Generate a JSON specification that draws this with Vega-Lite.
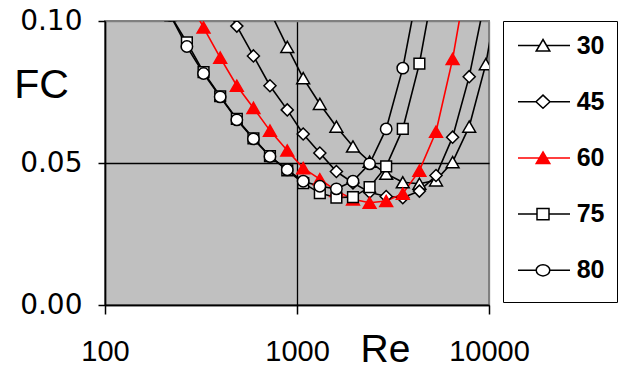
{
  "$schema": "https://vega.github.io/schema/vega-lite/v6.json",
  "width": 384,
  "height": 284,
  "autosize": {"type": "none"},
  "padding": {"left": 105, "top": 21, "right": 131, "bottom": 65},
  "background": "white",
  "config": {
    "view": {"fill": "#c0c0c0", "stroke": "#808080", "strokeWidth": 2},
    "font": "Liberation Sans"
  },
  "data": {
    "values": [
      {"series": "30", "Re": 723, "FC": 0.1034},
      {"series": "30", "Re": 890, "FC": 0.0909},
      {"series": "30", "Re": 1077, "FC": 0.0799},
      {"series": "30", "Re": 1315, "FC": 0.0708},
      {"series": "30", "Re": 1604, "FC": 0.0628},
      {"series": "30", "Re": 1957, "FC": 0.0558},
      {"series": "30", "Re": 2388, "FC": 0.0505},
      {"series": "30", "Re": 2914, "FC": 0.0462},
      {"series": "30", "Re": 3556, "FC": 0.0432},
      {"series": "30", "Re": 4340, "FC": 0.0427},
      {"series": "30", "Re": 5297, "FC": 0.0439},
      {"series": "30", "Re": 6463, "FC": 0.0503},
      {"series": "30", "Re": 7886, "FC": 0.0628},
      {"series": "30", "Re": 9623, "FC": 0.0848},
      {"series": "30", "Re": 11743, "FC": 0.118},
      {"series": "45", "Re": 398, "FC": 0.1087},
      {"series": "45", "Re": 486, "FC": 0.0982},
      {"series": "45", "Re": 593, "FC": 0.0877},
      {"series": "45", "Re": 723, "FC": 0.0772},
      {"series": "45", "Re": 890, "FC": 0.0687},
      {"series": "45", "Re": 1077, "FC": 0.0602},
      {"series": "45", "Re": 1315, "FC": 0.0535},
      {"series": "45", "Re": 1604, "FC": 0.047},
      {"series": "45", "Re": 1957, "FC": 0.043},
      {"series": "45", "Re": 2388, "FC": 0.0397},
      {"series": "45", "Re": 2914, "FC": 0.0382},
      {"series": "45", "Re": 3556, "FC": 0.0378},
      {"series": "45", "Re": 4340, "FC": 0.0401},
      {"series": "45", "Re": 5297, "FC": 0.0456},
      {"series": "45", "Re": 6463, "FC": 0.0591},
      {"series": "45", "Re": 7886, "FC": 0.0804},
      {"series": "45", "Re": 9623, "FC": 0.109},
      {"series": "60", "Re": 267, "FC": 0.1087},
      {"series": "60", "Re": 326, "FC": 0.0977},
      {"series": "60", "Re": 398, "FC": 0.0871},
      {"series": "60", "Re": 486, "FC": 0.0772},
      {"series": "60", "Re": 593, "FC": 0.0694},
      {"series": "60", "Re": 723, "FC": 0.0614},
      {"series": "60", "Re": 890, "FC": 0.0544},
      {"series": "60", "Re": 1077, "FC": 0.0482},
      {"series": "60", "Re": 1315, "FC": 0.0443},
      {"series": "60", "Re": 1604, "FC": 0.0402},
      {"series": "60", "Re": 1957, "FC": 0.0372},
      {"series": "60", "Re": 2388, "FC": 0.036},
      {"series": "60", "Re": 2914, "FC": 0.0366},
      {"series": "60", "Re": 3556, "FC": 0.0392},
      {"series": "60", "Re": 4340, "FC": 0.0473},
      {"series": "60", "Re": 5297, "FC": 0.061},
      {"series": "60", "Re": 6463, "FC": 0.0866},
      {"series": "60", "Re": 7886, "FC": 0.12},
      {"series": "75", "Re": 219, "FC": 0.102},
      {"series": "75", "Re": 267, "FC": 0.0925},
      {"series": "75", "Re": 326, "FC": 0.082},
      {"series": "75", "Re": 398, "FC": 0.0735},
      {"series": "75", "Re": 486, "FC": 0.0655},
      {"series": "75", "Re": 593, "FC": 0.0587},
      {"series": "75", "Re": 723, "FC": 0.0524},
      {"series": "75", "Re": 890, "FC": 0.0474},
      {"series": "75", "Re": 1077, "FC": 0.0429},
      {"series": "75", "Re": 1315, "FC": 0.0394},
      {"series": "75", "Re": 1604, "FC": 0.0378},
      {"series": "75", "Re": 1957, "FC": 0.038},
      {"series": "75", "Re": 2388, "FC": 0.0415},
      {"series": "75", "Re": 2914, "FC": 0.0488},
      {"series": "75", "Re": 3556, "FC": 0.062},
      {"series": "75", "Re": 4340, "FC": 0.085},
      {"series": "75", "Re": 5297, "FC": 0.117},
      {"series": "80", "Re": 219, "FC": 0.102},
      {"series": "80", "Re": 267, "FC": 0.091},
      {"series": "80", "Re": 326, "FC": 0.0815},
      {"series": "80", "Re": 398, "FC": 0.0733},
      {"series": "80", "Re": 486, "FC": 0.0652},
      {"series": "80", "Re": 593, "FC": 0.0585},
      {"series": "80", "Re": 723, "FC": 0.0523},
      {"series": "80", "Re": 890, "FC": 0.0476},
      {"series": "80", "Re": 1077, "FC": 0.0436},
      {"series": "80", "Re": 1315, "FC": 0.0418},
      {"series": "80", "Re": 1604, "FC": 0.0409},
      {"series": "80", "Re": 1957, "FC": 0.0436},
      {"series": "80", "Re": 2388, "FC": 0.0497},
      {"series": "80", "Re": 2914, "FC": 0.062},
      {"series": "80", "Re": 3556, "FC": 0.0834},
      {"series": "80", "Re": 4340, "FC": 0.114}
    ]
  },
  "encoding": {
    "x": {
      "field": "Re",
      "type": "quantitative",
      "scale": {"type": "log", "domain": [100, 10000]},
      "axis": {
        "values": [100, 1000, 10000],
        "format": "d",
        "title": "Re",
        "titleFont": "Liberation Sans",
        "titleFontSize": 39,
        "titleFontWeight": "normal",
        "titleColor": "black",
        "titleX": 280,
        "titleY": 56,
        "titleAlign": "center",
        "titleBaseline": "alphabetic",
        "labelFont": "Liberation Sans",
        "labelFontSize": 29,
        "labelColor": "black",
        "labelBaseline": "alphabetic",
        "labelPadding": 46,
        "labelFlush": false,
        "labelOverlap": false,
        "tickSize": 9,
        "tickColor": "black",
        "tickWidth": 1.5,
        "domainColor": "black",
        "domainWidth": 1.5,
        "grid": true,
        "gridColor": {"condition": {"test": "datum.value > 5000", "value": "#808080"}, "value": "black"},
        "gridWidth": 1.3,
        "gridOpacity": 1
      }
    },
    "y": {
      "field": "FC",
      "type": "quantitative",
      "scale": {"domain": [0, 0.1]},
      "axis": {
        "values": [0, 0.05, 0.1],
        "format": ".2f",
        "title": "FC",
        "titleFont": "Liberation Sans",
        "titleFontSize": 41,
        "titleFontWeight": "normal",
        "titleColor": "black",
        "titleAngle": 0,
        "titleX": -64,
        "titleY": 76,
        "titleAlign": "center",
        "titleBaseline": "alphabetic",
        "labelFont": "DejaVu Sans",
        "labelFontSize": 28,
        "labelColor": "black",
        "labelPadding": 16,
        "labelFlush": false,
        "labelOverlap": false,
        "tickSize": 7,
        "tickColor": "black",
        "tickWidth": 1.5,
        "domainColor": "black",
        "domainWidth": 1.5,
        "grid": true,
        "gridColor": {"condition": {"test": "datum.value > 0.09", "value": "#808080"}, "value": "black"},
        "gridWidth": 1.3,
        "gridOpacity": 1
      }
    }
  },
  "layer": [
    {
      "mark": {"type": "line", "clip": true, "strokeWidth": 1.6},
      "encoding": {
        "detail": {"field": "series", "type": "nominal"},
        "stroke": {"condition": {"test": "datum.series == '60'", "value": "#ff0000"}, "value": "black"}
      }
    },
    {
      "mark": {"type": "point", "clip": true, "strokeWidth": 1.5, "opacity": 1, "filled": true},
      "encoding": {
        "shape": {"condition": [{"test": "datum.series == '45'", "value": "diamond"}, {"test": "datum.series == '75'", "value": "square"}, {"test": "datum.series == '80'", "value": "circle"}], "value": "triangle-up"},
        "fill": {"condition": {"test": "datum.series == '60'", "value": "#ff0000"}, "value": "white"},
        "stroke": {"condition": {"test": "datum.series == '60'", "value": "#ff0000"}, "value": "black"},
        "size": {"condition": [{"test": "datum.series == '75'", "value": 115}, {"test": "datum.series == '80'", "value": 130}, {"test": "datum.series == '45'", "value": 145}], "value": 165}
      }
    },
    {
      "transform": [{"filter": "false"}],
      "mark": {"type": "point", "strokeWidth": 1.5, "opacity": 1, "filled": true},
      "encoding": {
        "shape": {
          "field": "series",
          "type": "nominal",
          "scale": {
            "domain": ["30", "45", "60", "75", "80"],
            "range": [
              "M-2.8,-1.96M-2.8,1.67M-2.5,0H-0.36M0.36,0H2.7M0,-0.6L0.68,0.55L-0.68,0.55Z",
              "M-2.8,-1.96M-2.8,1.67M-2.5,0H-0.7M0.7,0H2.7M0,-0.66L0.7,0L0,0.66L-0.7,0Z",
              "M-2.8,-1.96M-2.8,1.67M-2.5,0H2.7M0,-0.6L0.68,0.55L-0.68,0.55Z",
              "M-2.8,-1.96M-2.8,1.67M-2.5,0H-0.6M0.6,0H2.7M-0.6,-0.56H0.6V0.56H-0.6Z",
              "M-2.8,-1.96M-2.8,1.67M-2.5,0H-0.68M0.68,0H2.7M0.68,0A0.68,0.56,0,1,1,-0.68,0A0.68,0.56,0,1,1,0.68,0Z"
            ]
          },
          "legend": {
            "title": null,
            "orient": "right",
            "offset": 14,
            "padding": 12,
            "strokeColor": "black",
            "fillColor": "white",
            "rowPadding": 12.2,
            "symbolSize": 400,
            "symbolStrokeWidth": 1.5,
            "symbolOffset": 15.5,
            "symbolOpacity": 1,
            "labelOffset": 21.2,
            "labelFont": "Liberation Sans",
            "labelFontSize": 25,
            "labelFontWeight": "bold",
            "labelColor": "black",
            "encode": {
              "legend": {"update": {"strokeWidth": {"value": 1.5}}},
              "labels": {"update": {"dy": {"value": 3}}}
            }
          }
        },
        "fill": {
          "field": "series",
          "type": "nominal",
          "scale": {"domain": ["30", "45", "60", "75", "80"], "range": ["white", "white", "#ff0000", "white", "white"]}
        },
        "stroke": {
          "field": "series",
          "type": "nominal",
          "scale": {"domain": ["30", "45", "60", "75", "80"], "range": ["black", "black", "#ff0000", "black", "black"]}
        }
      }
    }
  ]
}
